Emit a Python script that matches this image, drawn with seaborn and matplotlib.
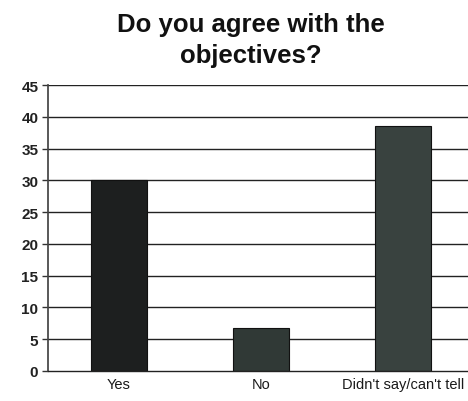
import matplotlib
matplotlib.use("Agg")
import matplotlib.pyplot as plt
import seaborn as sns
import pandas as pd

categories = ["Yes", "No", "Didn't say/can't tell"]
values = [30, 6.7, 38.5]
colors = ["#1d1f1f", "#2e3a36", "#37443f"]
yticks = [0, 5, 10, 15, 20, 25, 30, 35, 40, 45]

sns.set_theme(style="white")
plt.rcParams['font.family'] = ['Liberation Sans', 'DejaVu Sans']

df = pd.DataFrame({"cat": categories, "val": values})

fig = plt.figure(figsize=(4.68, 4.02), dpi=100)
ax = fig.add_axes([48/468, 30/402, 426/468, 286/402])

for y in yticks[1:]:
    ax.axhline(y, color="#222222", lw=1.0, zorder=0)

sns.barplot(data=df, x="cat", y="val", hue="cat", palette=colors, legend=False,
            width=0.4, edgecolor="#111111", linewidth=0.8, ax=ax, zorder=2)

ax.set_ylim(0, 45)
ax.set_xlim(-0.5, 2.5)
ax.set_yticks(yticks)
ax.set_yticklabels([str(t) for t in yticks], fontsize=11, fontweight="bold", color="#222222")
ax.set_xticks(range(len(categories)))
ax.set_xticklabels(categories, fontsize=10.5, color="#1a1a1a")
ax.set_xlabel("")
ax.set_ylabel("")
ax.tick_params(axis="y", length=4, width=1, color="#333333", left=True, pad=3)
ax.tick_params(axis="x", length=0, pad=4)

for s in ["top", "right"]:
    ax.spines[s].set_visible(False)
ax.spines["left"].set_linestyle((0, (1, 1)))
ax.spines["left"].set_color("#444444")
ax.spines["bottom"].set_color("#222222")
ax.spines["bottom"].set_linewidth(1.0)

fig.text(0.535, 0.968, "Do you agree with the\nobjectives?", ha="center", va="top",
         fontsize=18.5, fontweight="bold", color="#111111", linespacing=1.4)

fig.savefig("out.png", dpi=100)
